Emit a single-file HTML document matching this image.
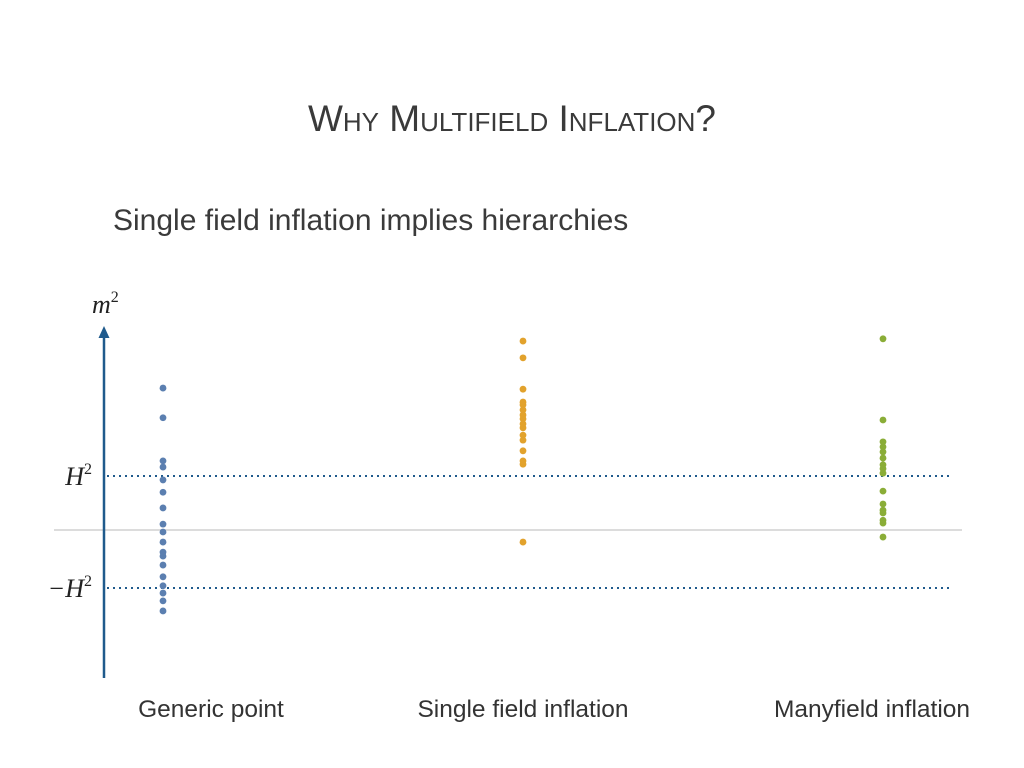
<!DOCTYPE html>
<html><head><meta charset="utf-8"><style>
html,body{margin:0;padding:0;background:#fff;}
body{width:1024px;height:768px;overflow:hidden;position:relative;font-family:"Liberation Sans",sans-serif;color:#333;}
.t{position:absolute;white-space:nowrap;}
</style></head><body>
<div class="t" style="left:0;width:1024px;text-align:center;top:98px;font-size:37px;font-variant:small-caps;color:#3a3a3a;">Why Multifield Inflation?</div>
<div class="t" style="left:113px;top:204px;font-size:30px;color:#3a3a3a;">Single field inflation implies hierarchies</div>
<svg id="chart" width="1024" height="768" style="position:absolute;left:0;top:0;">
</svg>
<script>
const categories = ["Generic point","Single field inflation","Manyfield inflation"];
const genericValues = [2.57,2.04,1.27,1.16,0.93,0.71,0.43,0.14,0,-0.18,-0.36,-0.43,-0.59,-0.80,-0.96,-1.09,-1.23,-1.41];
const singleValues = [3.41,3.11,2.55,2.32,2.27,2.18,2.09,2.02,1.93,1.86,1.73,1.64,1.45,1.27,1.21,-0.18];
const manyValues = [3.45,2.0,1.61,1.52,1.43,1.32,1.20,1.13,1.05,0.73,0.5,0.39,0.34,0.21,0.16,-0.09];
const refLevels = [1,-1];
const refLabels = ["H","−H"];
const colors = ["#5b7fb0","#e2a22c","#8aad37"];
const series = [genericValues,singleValues,manyValues];
const NS="http://www.w3.org/2000/svg";
const svg=document.getElementById('chart');
function y(v){return 532 - v*56;}
function x(i){return 163 + i*360;}
function mk(tag,attrs){const e=document.createElementNS(NS,tag);for(const k in attrs)e.setAttribute(k,attrs[k]);svg.appendChild(e);return e;}
let z=mk('line',{x1:54,x2:962,y1:y(0)-2,y2:y(0)-2,stroke:'#c8c8c8','stroke-width':1.2});


refLevels.forEach((lv,i)=>{
  const l=mk('line',{x1:107,x2:950,y1:y(lv),y2:y(lv),stroke:'#1f5a8c','stroke-width':2,'stroke-dasharray':'2 4'});
  
  
  const t=mk('text',{x:92,y:y(lv)+9,'text-anchor':'end','font-family':'Liberation Serif, serif','font-style':'italic','font-size':26,fill:'#222'});
  t.textContent=refLabels[i];
  const s=document.createElementNS(NS,'tspan');s.setAttribute('dy','-11');s.setAttribute('font-size','16');s.setAttribute('font-style','normal');s.textContent='2';t.appendChild(s);
  
  
});
let ax=mk('line',{x1:104,x2:104,y1:336,y2:678,stroke:'#1f5a8c','stroke-width':2.5});


let ah=mk('polygon',{points:'104,326 98.5,338 109.5,338',fill:'#1f5a8c'});


let yl=mk('text',{x:92,y:313,'font-family':'Liberation Serif, serif','font-style':'italic','font-size':26,fill:'#222'});
yl.textContent='m';
const ys=document.createElementNS(NS,'tspan');ys.setAttribute('dy','-11');ys.setAttribute('font-size','16');ys.setAttribute('font-style','normal');ys.textContent='2';yl.appendChild(ys);


series.forEach((vals,i)=>{
  vals.forEach(v=>{
    const c=mk('circle',{cx:x(i),cy:y(v),r:3.4,fill:colors[i]});
    
    
  });
  const lx=[211,523,872][i];
  const t=mk('text',{x:lx,y:717,'text-anchor':'middle','font-family':'Liberation Sans, sans-serif','font-size':24.5,fill:'#333'});
  t.textContent=categories[i];
  
  
});
</script>
</body></html>
